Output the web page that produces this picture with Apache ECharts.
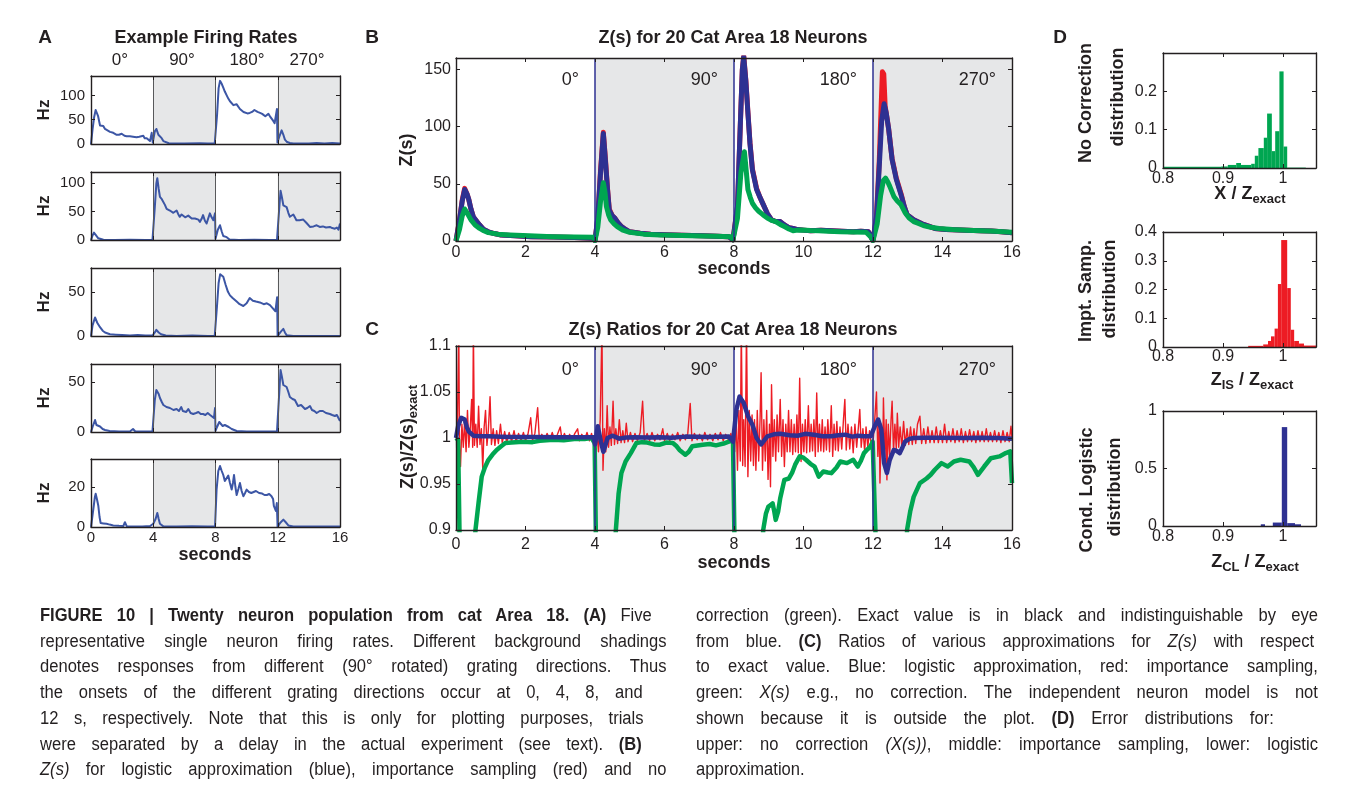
<!DOCTYPE html>
<html>
<head>
<meta charset="utf-8">
<script src="https://cdn.jsdelivr.net/npm/echarts@6/dist/echarts.min.js"></script>
<style>
  html, body { margin: 0; padding: 0; background: #fff; width: 1355px; height: 793px; overflow: hidden; }
  #chart { position: absolute; left: 0; top: 0; width: 1355px; height: 793px; }
  .cap { position: absolute; top: 603px; font-family: "Liberation Sans", Arial, sans-serif;
         font-size: 18px; line-height: 25.7px; color: #231f20; transform: scaleX(0.92); transform-origin: 0 0; }
  .cap div { white-space: nowrap; text-align: justify; text-align-last: justify; }
  .cap div.nat { text-align: left; text-align-last: left; }
</style>
</head>
<body>
<div id="chart"></div>

<!-- widths are the reference widths divided by the 0.92 horizontal squeeze -->
<div class="cap" style="left:40px;width:681px;">
  <div style="width:665px"><b>FIGURE 10 | Twenty neuron population from cat Area 18. (A)</b> Five</div>
  <div>representative single neuron firing rates. Different background shadings</div>
  <div>denotes responses from different (90° rotated) grating directions. Thus</div>
  <div style="width:655px">the onsets of the different grating directions occur at 0, 4, 8, and</div>
  <div style="width:656px">12 s, respectively. Note that this is only for plotting purposes, trials</div>
  <div style="width:654px">were separated by a delay in the actual experiment (see text). <b>(B)</b></div>
  <div><i>Z(s)</i> for logistic approximation (blue), importance sampling (red) and no</div>
</div>
<div class="cap" style="left:696px;width:676px;">
  <div>correction (green). Exact value is in black and indistinguishable by eye</div>
  <div style="width:672px">from blue. <b>(C)</b> Ratios of various approximations for <i>Z(s)</i> with respect</div>
  <div>to exact value. Blue: logistic approximation, red: importance sampling,</div>
  <div>green: <i>X(s)</i> e.g., no correction. The independent neuron model is not</div>
  <div style="width:628px">shown because it is outside the plot. <b>(D)</b> Error distributions for:</div>
  <div>upper: no correction <i>(X(s))</i>, middle: importance sampling, lower: logistic</div>
  <div class="nat">approximation.</div>
</div>

<script>
// ---- panel A: single neuron firing rates (Hz) ----
const rate1 = [[0,0],[0.1,30],[0.2,55],[0.3,70],[0.36,72],[0.45,58],[0.58,38],[0.7,39],[0.79,37],[0.9,31],[1.0,28],[1.22,25],[1.43,23],[1.55,24],[1.65,19],[1.8,19],[1.97,21],[2.15,17],[2.29,16],[2.5,16],[2.7,15],[2.93,14],[3.1,15],[3.2,13],[3.36,17],[3.45,12],[3.58,12],[3.68,16],[3.79,6],[3.9,23],[3.97,3],[4.0,1],[4.1,26],[4.2,31],[4.33,19],[4.45,15],[4.54,12],[4.65,6],[4.75,2],[5.0,1.5],[6,1],[7,1.5],[7.5,1],[7.95,1],
  [8.0,0],[8.1,60],[8.2,115],[8.29,130],[8.4,124],[8.5,116],[8.6,108],[8.72,100],[8.83,93],[8.93,88],[9.04,85],[9.15,80],[9.25,77],[9.35,82],[9.46,79],[9.57,72],[9.68,68],[9.8,66],[9.9,62],[10.05,63],[10.2,64],[10.35,66],[10.5,70],[10.7,66],[10.86,64],[11.0,62],[11.2,57],[11.3,58],[11.4,62],[11.5,57],[11.6,54],[11.7,48],[11.8,43],[11.9,45],[11.95,72],[11.98,3],
  [12.0,0],[12.1,15],[12.25,28],[12.35,20],[12.46,9],[12.6,4],[12.78,2],[13,1],[14,1],[14.5,2],[15,1],[15.5,2],[16,1]];
const rate2 = [[0,0],[0.1,8],[0.19,13],[0.3,10],[0.36,7],[0.47,3],[0.58,1],[0.8,0.5],[1.5,0],[2.5,0.5],[3.5,0],[3.95,0],
  [4.0,0],[4.1,58],[4.2,100],[4.26,109],[4.35,90],[4.43,76],[4.55,72],[4.65,70],[4.75,62],[4.86,55],[4.95,57],[5.07,52],[5.18,53],[5.29,48],[5.4,47],[5.5,52],[5.6,46],[5.7,41],[5.82,45],[5.93,45],[6.05,40],[6.15,39],[6.25,43],[6.36,42],[6.47,38],[6.57,36],[6.68,38],[6.79,41],[6.9,36],[7.0,32],[7.1,37],[7.2,44],[7.32,34],[7.43,29],[7.53,38],[7.64,47],[7.75,40],[7.86,35],[7.97,47],[8.0,2],
  [8.05,5],[8.15,18],[8.29,26],[8.4,15],[8.5,7],[8.6,5],[8.72,5],[8.9,1],[9.5,0],[10.5,0.5],[11.5,0],[11.95,0],
  [12.0,2],[12.08,50],[12.18,87],[12.27,75],[12.36,61],[12.47,62],[12.57,58],[12.68,48],[12.78,41],[12.9,43],[13.0,45],[13.1,40],[13.2,35],[13.4,35],[13.64,36],[13.85,30],[14.07,23],[14.3,24],[14.5,26],[14.7,23],[14.9,24],[15.1,22],[15.35,23],[15.5,21],[15.67,20],[15.8,22],[15.9,18],[16,29]];
const rate3 = [[0,0],[0.1,12],[0.26,21],[0.4,15],[0.58,10],[0.75,6],[0.9,4],[1.22,2],[1.6,1.5],[2,1],[2.5,0.5],[3,1],[3.5,0.5],[3.95,0.5],
  [4.0,0],[4.1,4],[4.2,7],[4.35,4],[4.5,2],[4.8,0.5],[5.5,0],[6.5,0.5],[7.5,0],[7.95,0],
  [8.0,0],[8.1,35],[8.2,60],[8.3,70],[8.4,71],[8.5,67],[8.65,58],[8.8,50],[8.93,46],[9.1,43],[9.36,39],[9.55,36],[9.79,34],[10.0,37],[10.2,43],[10.4,40],[10.6,39],[10.85,38],[11.1,36],[11.3,37],[11.5,35],[11.6,33],[11.7,31],[11.85,28],[11.93,28],[11.96,44],[11.99,0],
  [12.0,0],[12.2,5],[12.36,8],[12.46,4],[12.57,1],[13,0],[14,0],[15,0],[16,0]];
const rate4 = [[0,0],[0.1,5],[0.26,12],[0.35,7],[0.47,5],[0.58,5.5],[0.75,3],[0.9,2],[1.2,1],[1.8,0.5],[2.5,0.5],[2.7,3],[2.85,0.5],[3.5,0.5],[3.95,0.5],
  [4.0,0],[4.1,32],[4.2,42],[4.26,44],[4.35,38],[4.43,34],[4.55,30],[4.65,27],[4.85,25],[5.07,24],[5.3,22],[5.5,23],[5.65,21],[5.8,25],[5.9,21],[6.0,19],[6.12,20],[6.25,23],[6.4,19],[6.57,18],[6.75,19],[6.9,20],[7.05,18],[7.2,18],[7.35,17],[7.5,19],[7.65,17],[7.75,18],[7.9,14],[7.97,24],[8.0,1],
  [8.1,5],[8.24,10],[8.35,8],[8.46,6],[8.6,7],[8.7,8],[8.85,5],[9.04,3],[9.36,1],[10,0.5],[11,0.5],[11.95,0.5],
  [12.0,0],[12.1,40],[12.18,62],[12.27,55],[12.36,47],[12.47,47],[12.57,45],[12.68,40],[12.78,35],[12.95,33],[13.1,32],[13.2,29],[13.3,26],[13.4,28],[13.5,27],[13.6,25],[13.75,23],[13.9,24],[14.07,26],[14.2,22],[14.35,21],[14.5,19],[14.7,21],[14.9,21],[15.1,19],[15.35,18],[15.5,17],[15.67,16],[15.8,17],[15.9,19],[16,11]];
const rate5 = [[0,0],[0.15,9],[0.25,15],[0.3,16.6],[0.38,14],[0.47,10.6],[0.55,5],[0.62,2],[0.8,1.8],[1.0,1.6],[1.2,1.2],[1.43,0.8],[1.8,0.6],[2.08,0.5],[2.18,2.4],[2.3,0.3],[2.8,0.3],[3.3,0.2],[3.8,0.5],[4.0,1.6],[4.15,4],[4.26,7],[4.35,4],[4.43,1.6],[4.65,0.3],[5.5,0.2],[6.5,0.4],[7.5,0.2],[7.97,0.2],
  [8.0,0],[8.07,18.7],[8.18,28],[8.29,30.5],[8.4,28],[8.5,26],[8.6,23],[8.72,22],[8.82,25.7],[8.93,22],[9.04,18.7],[9.12,22],[9.19,26],[9.28,20],[9.36,16],[9.47,19],[9.57,22],[9.68,18],[9.79,15.4],[9.9,17],[10.0,18.7],[10.15,17.5],[10.3,17],[10.45,17.5],[10.6,18],[10.8,17],[11.0,16.7],[11.15,16],[11.3,16],[11.45,16.5],[11.6,15.4],[11.7,14],[11.75,10.6],[11.88,8],[11.94,12],[11.99,0],
  [12.0,0],[12.15,2],[12.36,3.7],[12.5,2.5],[12.68,0.8],[13,0.3],[14,0.2],[15,0.2],[16,0.2]];
const rateMax = [140, 120, 77, 68, 34];
const rateStep = [50, 50, 50, 50, 20];

// ---- panel B: Z(s) ----
const zRed = [[0,0],[0.1,18],[0.18,36],[0.25,46],[0.32,41],[0.37,36],[0.43,28],[0.5,21],[0.6,17],[0.68,14],[0.8,10],[0.93,8],[1.1,6.5],[1.3,5.3],[1.7,4.5],[2.16,3.8],[2.8,3.4],[3.4,3],[3.96,2.5],
  [4.0,0.5],[4.08,20],[4.16,62],[4.24,95],[4.3,72],[4.36,46],[4.41,28],[4.5,22],[4.57,20],[4.66,16],[4.76,12.8],[4.88,10],[5.0,8],[5.3,6.8],[5.6,6],[6.0,5.5],[6.5,5],[7.1,4.6],[7.5,4.2],[7.85,3.8],[7.97,1],
  [8.0,0.5],[8.1,30],[8.18,100],[8.24,150],[8.28,162],[8.34,141],[8.4,113],[8.46,86],[8.53,63],[8.65,46],[8.75,38],[8.84,32],[8.96,24],[9.08,18.5],[9.2,17],[9.33,17],[9.45,14],[9.58,11.7],[9.7,11],[9.83,10],[10.0,9.5],[10.2,9],[10.5,9.5],[10.8,9],[11.1,8.5],[11.43,8],[11.65,8.5],[11.87,8],[11.93,4.4],
  [12.0,0.5],[12.1,22],[12.18,70],[12.24,122],[12.27,148],[12.31,146],[12.35,118],[12.4,108],[12.45,98],[12.55,72],[12.67,55],[12.82,40],[12.9,30],[12.98,23],[13.17,18.5],[13.41,15],[13.6,13],[13.78,11],[14.1,10],[14.5,9.7],[15.1,9],[15.4,8.8],[15.7,8],[16,7.3]];
const zBlue = [[0,0],[0.1,18],[0.18,35],[0.25,45],[0.32,41],[0.37,36],[0.43,28],[0.5,21],[0.6,17],[0.68,14],[0.8,10],[0.93,8],[1.1,6.5],[1.3,5.3],[1.7,4.5],[2.16,3.8],[2.8,3.4],[3.4,3],[3.96,2.5],
  [4.0,0.5],[4.08,20],[4.16,60],[4.24,94],[4.3,70],[4.36,45],[4.41,27],[4.5,22],[4.57,20],[4.66,16],[4.76,12.6],[4.88,10],[5.0,8],[5.3,6.8],[5.6,6],[6.0,5.5],[6.5,5],[7.1,4.6],[7.5,4.2],[7.85,3.8],[7.97,1],
  [8.0,0.5],[8.1,30],[8.18,100],[8.24,150],[8.28,161],[8.34,140],[8.4,112],[8.46,85],[8.53,62],[8.65,45],[8.75,38],[8.84,32],[8.96,24],[9.08,18.5],[9.2,17],[9.33,17],[9.45,14],[9.58,11.7],[9.7,11],[9.83,10],[10.0,9.5],[10.2,9],[10.5,9.5],[10.8,9],[11.1,8.5],[11.43,8],[11.65,8.5],[11.87,8],[11.93,4.4],
  [12.0,0.5],[12.1,20],[12.18,65],[12.25,105],[12.32,120],[12.38,112],[12.45,98],[12.55,71],[12.67,54],[12.82,39],[12.9,30],[12.98,23],[13.17,18.5],[13.41,15],[13.6,13],[13.78,11],[14.1,10],[14.5,9.7],[15.1,9],[15.4,8.8],[15.7,8],[16,7.3]];
const zGreen = [[0,0],[0.1,10],[0.18,22],[0.25,28],[0.33,24],[0.43,18.5],[0.55,14],[0.68,11],[0.8,9],[0.93,7.3],[1.2,6],[1.55,5.3],[2.1,4.5],[2.78,3.8],[3.4,3.5],[3.96,3.2],
  [4.0,0.5],[4.08,12],[4.16,35],[4.24,51],[4.29,42],[4.33,30],[4.39,23],[4.45,18.5],[4.55,15],[4.64,12.6],[4.8,9.5],[5.0,7.6],[5.4,6],[5.87,5.3],[6.5,4.8],[7.1,4.4],[7.5,4.2],[7.9,3.8],[7.97,1],
  [8.0,0.5],[8.1,20],[8.2,60],[8.3,78],[8.35,62],[8.4,45],[8.47,38],[8.53,33],[8.62,29],[8.71,26],[8.83,23],[8.96,20],[9.08,18],[9.2,17],[9.33,14.5],[9.45,12.6],[9.58,10.5],[9.7,9],[9.83,9.5],[9.95,9.7],[10.2,9.2],[10.44,9],[10.7,8.6],[11.06,8],[11.4,7.8],[11.8,7.6],[11.93,3.8],
  [12.0,0.5],[12.12,15],[12.22,40],[12.3,53],[12.36,55],[12.42,52],[12.48,48],[12.6,39],[12.7,35],[12.8,32],[12.92,25],[13.04,20],[13.17,17],[13.29,15.6],[13.45,13.5],[13.66,12],[13.9,11],[14.28,10],[14.7,9.5],[15.1,9],[15.5,8.5],[16,7.6]];

// ---- panel C: ratios Z(s)/Z(s)exact ----
const ratioRed = [[0,1.0],[0.04,1.012],[0.08,1.12],[0.1,0.99],[0.13,0.969],[0.17,1.015],[0.21,0.99],[0.25,1.02],[0.29,0.985],[0.33,1.03],[0.37,0.99],[0.41,1.01],[0.45,1.042],[0.48,0.99],[0.5,1.12],[0.53,0.992],[0.57,1.015],[0.61,0.99],[0.65,1.0345],[0.69,0.993],[0.73,1.01],[0.77,0.966],[0.81,1.012],[0.85,1.03],[0.89,0.992],[0.93,1.008],[0.98,1.045],[1.02,0.993],[1.07,1.01],[1.12,0.992],[1.17,1.008],[1.22,0.994],[1.28,1.015],[1.33,0.995],[1.4,1.007],[1.46,0.995],[1.53,1.006],[1.6,0.996],[1.67,1.008],[1.73,0.996],[1.8,1.005],[1.87,0.997],[1.94,1.006],[2.0,0.997],[2.07,1.004],[2.15,1.022],[2.2,0.997],[2.27,1.005],[2.35,1.033],[2.4,0.997],[2.47,1.004],[2.55,0.997],[2.62,1.005],[2.7,0.998],[2.77,1.006],[2.84,0.997],[2.92,1.004],[3.0,1.012],[3.05,0.998],[3.12,1.005],[3.2,0.997],[3.27,1.004],[3.34,0.998],[3.42,1.005],[3.5,1.01],[3.55,0.997],[3.62,1.004],[3.7,0.998],[3.77,1.006],[3.84,0.997],[3.9,1.005],[3.96,0.995],
  [4.0,0.99],[4.05,1.008],[4.1,0.985],[4.15,1.02],[4.2,1.12],[4.23,0.965],[4.27,1.01],[4.31,0.985],[4.35,1.035],[4.39,0.99],[4.43,1.012],[4.47,0.992],[4.52,1.04],[4.56,0.993],[4.6,1.01],[4.65,0.994],[4.7,1.02],[4.75,0.995],[4.8,1.008],[4.85,0.995],[4.9,1.016],[4.95,0.996],[5.02,1.006],[5.08,0.996],[5.15,1.005],[5.22,0.997],[5.3,1.006],[5.37,1.04],[5.42,0.997],[5.5,1.005],[5.57,0.997],[5.64,1.006],[5.72,0.997],[5.8,1.004],[5.87,0.998],[5.95,1.01],[6.0,0.997],[6.08,1.005],[6.15,0.997],[6.23,1.004],[6.3,0.998],[6.38,1.006],[6.45,0.997],[6.53,1.004],[6.6,0.998],[6.67,1.005],[6.74,1.0375],[6.79,0.997],[6.86,1.005],[6.94,0.998],[7.01,1.004],[7.09,0.997],[7.16,1.006],[7.24,0.998],[7.31,1.004],[7.39,0.997],[7.46,1.005],[7.54,0.998],[7.61,1.006],[7.69,0.997],[7.76,1.004],[7.84,0.998],[7.91,1.005],[7.97,0.995],
  [8.02,0.985],[8.06,1.02],[8.1,0.965],[8.14,1.03],[8.18,0.975],[8.21,1.12],[8.25,0.97],[8.28,1.02],[8.32,0.969],[8.36,1.12],[8.4,0.958],[8.44,1.03],[8.48,0.975],[8.52,1.025],[8.56,0.97],[8.59,1.02],[8.63,0.965],[8.67,1.03],[8.71,0.975],[8.75,1.02],[8.78,1.071],[8.82,0.965],[8.86,1.02],[8.9,0.975],[8.94,1.03],[8.98,0.955],[9.02,1.015],[9.05,0.947],[9.08,1.058],[9.12,0.98],[9.16,1.02],[9.2,0.975],[9.24,1.025],[9.28,0.985],[9.33,1.042],[9.37,0.98],[9.41,1.02],[9.45,0.969],[9.49,1.015],[9.53,0.985],[9.57,1.03],[9.61,0.985],[9.65,1.02],[9.69,0.982],[9.73,1.015],[9.77,0.985],[9.81,1.025],[9.85,0.984],[9.89,1.065],[9.93,0.9745],[9.97,1.015],[10.01,0.985],[10.05,1.02],[10.09,0.984],[10.14,1.035],[10.18,0.985],[10.22,1.015],[10.26,0.986],[10.3,1.02],[10.34,0.98],[10.38,1.049],[10.42,0.985],[10.46,1.015],[10.5,0.986],[10.54,1.02],[10.58,0.985],[10.62,1.012],[10.66,0.987],[10.7,1.02],[10.75,0.985],[10.8,1.035],[10.84,0.98],[10.88,1.015],[10.92,0.987],[10.96,1.018],[11.0,0.986],[11.05,1.012],[11.1,0.988],[11.15,1.02],[11.19,1.042],[11.23,0.987],[11.28,1.015],[11.33,0.988],[11.38,1.012],[11.43,0.984],[11.48,1.015],[11.53,0.99],[11.58,1.012],[11.62,1.031],[11.66,0.99],[11.71,1.01],[11.76,0.985],[11.8,1.012],[11.85,0.99],[11.9,1.008],[11.95,0.992],
  [12.0,0.995],[12.05,1.02],[12.1,1.05],[12.14,0.98],[12.18,1.02],[12.2,0.951],[12.24,1.015],[12.28,0.975],[12.3,1.0436],[12.34,0.98],[12.38,1.02],[12.4,0.9545],[12.44,1.015],[12.48,0.98],[12.52,1.02],[12.55,1.04],[12.59,0.985],[12.63,1.015],[12.67,0.988],[12.7,1.027],[12.74,0.99],[12.78,1.012],[12.83,0.99],[12.88,1.018],[12.93,0.992],[12.98,1.01],[13.03,0.993],[13.08,1.012],[13.13,0.993],[13.18,1.01],[13.23,0.994],[13.28,1.015],[13.35,1.0236],[13.4,0.994],[13.46,1.01],[13.52,0.994],[13.58,1.012],[13.64,0.995],[13.7,1.008],[13.76,0.995],[13.82,1.012],[13.88,0.995],[13.94,1.008],[14.0,0.995],[14.06,1.015],[14.12,0.995],[14.18,1.007],[14.24,0.996],[14.3,1.01],[14.36,0.995],[14.42,1.008],[14.48,0.996],[14.54,1.01],[14.6,0.995],[14.66,1.007],[14.72,0.996],[14.78,1.009],[14.84,0.996],[14.9,1.007],[14.96,0.995],[15.02,1.008],[15.08,0.996],[15.14,1.007],[15.2,0.996],[15.26,1.01],[15.32,0.996],[15.38,1.006],[15.44,0.996],[15.5,1.008],[15.56,0.996],[15.62,1.006],[15.68,0.995],[15.74,1.008],[15.8,0.996],[15.86,1.006],[15.92,0.996],[15.97,1.0127],[16,1.0]];
const ratioBlue = [[0,1.0],[0.06,1.0127],[0.15,1.022],[0.25,1.02],[0.31,1.012],[0.37,1.007],[0.5,1.0025],[0.7,1.002],[0.93,1.0018],[1.5,1.0012],[2.16,1.001],[3.0,1.0008],[3.5,1.0009],[3.96,1.0007],[4.0,0.993],
  [4.08,1.0127],[4.17,0.996],[4.24,0.985],[4.3,0.992],[4.36,1.0],[4.5,1.0025],[4.6,1.001],[4.7,0.9993],[4.9,1.0005],[5.13,1.0007],[5.5,1.0005],[5.87,1.0007],[6.2,1.0003],[6.6,1.0015],[7.2,1.0012],[7.85,1.0015],[7.97,0.996],
  [8.07,1.031],[8.16,1.045],[8.28,1.038],[8.4,1.024],[8.53,1.0145],[8.65,1.0],[8.78,0.993],[8.96,1.0018],[9.15,1.004],[9.33,1.0047],[9.6,1.003],[9.83,1.0025],[10.05,1.0045],[10.3,1.0036],[10.55,1.002],[10.8,1.0018],[11.0,1.003],[11.2,1.0036],[11.4,1.0015],[11.56,1.0025],[11.75,1.002],[11.93,1.0018],
  [12.05,1.0127],[12.15,1.02],[12.24,1.009],[12.32,0.9727],[12.4,0.962],[12.48,0.976],[12.6,0.987],[12.68,0.986],[12.77,0.9836],[12.85,0.99],[12.92,0.996],[13.05,0.999],[13.17,1.0],[13.5,1.0004],[13.9,1.0004],[14.5,1.0],[15.14,1.0004],[15.6,1.0],[16,0.9993]];
const ratioGreen = [[0,1.0],[0.06,0.998],[0.12,0.85],[0.5,0.85],[0.56,0.9],[0.65,0.93],[0.74,0.958],[0.83,0.968],[0.93,0.976],[1.05,0.982],[1.17,0.987],[1.3,0.991],[1.42,0.9945],[1.6,0.995],[1.92,0.996],[2.2,0.9955],[2.41,0.997],[2.8,0.998],[3.1,0.9975],[3.4,0.9989],[3.7,0.999],[3.9,1.0],[3.99,0.9945],
  [4.04,0.85],[4.55,0.85],[4.6,0.9],[4.68,0.94],[4.76,0.962],[4.88,0.9745],[5.03,0.9836],[5.19,0.9945],[5.35,0.9955],[5.5,0.995],[5.7,0.993],[5.87,0.9927],[6.05,0.995],[6.24,0.9945],[6.35,0.991],[6.43,0.987],[6.6,0.9818],[6.7,0.985],[6.8,0.991],[7.1,0.9927],[7.3,0.9935],[7.48,0.992],[7.7,0.994],[7.85,0.996],[7.97,0.998],
  [8.03,0.85],[8.8,0.85],[8.84,0.9],[8.92,0.918],[8.99,0.9255],[9.05,0.927],[9.11,0.929],[9.16,0.92],[9.2,0.911],[9.27,0.92],[9.33,0.9345],[9.45,0.9545],[9.58,0.956],[9.67,0.962],[9.76,0.971],[9.89,0.98],[9.98,0.979],[10.07,0.9764],[10.2,0.972],[10.32,0.969],[10.44,0.958],[10.57,0.9636],[10.7,0.9625],[10.8,0.9618],[10.95,0.968],[11.06,0.9745],[11.25,0.9727],[11.43,0.9764],[11.56,0.969],[11.65,0.975],[11.74,0.9836],[11.85,0.988],[11.93,0.991],[11.99,0.996],
  [12.11,0.85],[12.95,0.85],[12.98,0.9],[13.07,0.92],[13.17,0.936],[13.35,0.951],[13.54,0.956],[13.66,0.96],[13.78,0.9655],[13.97,0.9727],[14.15,0.969],[14.33,0.9745],[14.52,0.9764],[14.77,0.9745],[14.9,0.968],[15.02,0.96],[15.2,0.969],[15.39,0.978],[15.64,0.98],[15.82,0.9836],[15.95,0.9855],[16,0.951]];

// ---- panel D: error distributions (bin edges + heights) ----
const edgesNC = [0.800, 0.897, 0.908, 0.922, 0.930, 0.947, 0.953, 0.959, 0.968, 0.9735, 0.9814, 0.987, 0.994, 1.001, 1.007, 1.038];
const histNC  = [0.003, 0.004, 0.008, 0.013, 0.008, 0.011, 0.032, 0.052, 0.079, 0.142, 0.044, 0.096, 0.252, 0.056, 0.001];
const edgesIS = [0.942, 0.967, 0.975, 0.980, 0.986, 0.9915, 0.997, 1.007, 1.013, 1.0186, 1.0266, 1.035, 1.055];
const histIS  = [0.004, 0.009, 0.021, 0.037, 0.064, 0.219, 0.372, 0.205, 0.060, 0.021, 0.012, 0.005];
const edgesCL = [0.963, 0.970, 0.983, 0.998, 1.007, 1.020, 1.030];
const histCL  = [0.015, 0, 0.030, 0.860, 0.025, 0.015];

const angles = ["0°", "90°", "180°", "270°"];

const INK = "#231f20";
const SHADE = "#e6e7e8";
const SANS = "'Liberation Sans', Arial, Helvetica, sans-serif";
const cBlueA = "#3c56a5", cRed = "#ed1c24", cNavy = "#2e3192", cGreen = "#00a651";

const grids = [], xAxes = [], yAxes = [], series = [], graphics = [];

function frame(box, xo, yo) {
  const gi = grids.length;
  grids.push({ left: box[0], top: box[1], width: box[2], height: box[3] });
  const common = {
    gridIndex: gi, type: "value", z: 10, splitLine: { show: false },
    axisLine: { onZero: false, lineStyle: { color: INK, width: 1.4 } },
    axisTick: { inside: true, length: 4, lineStyle: { color: INK, width: 1 } },
  };
  const xi = xAxes.length, yi = yAxes.length;
  xAxes.push(Object.assign({}, common, {
    position: "bottom", min: xo.min, max: xo.max, interval: xo.step,
    axisLabel: { show: xo.labels, color: INK, fontSize: xo.fs, fontFamily: SANS, margin: xo.margin, showMaxLabel: xo.showMax },
  }));
  xAxes.push(Object.assign({}, common, {
    position: "top", min: xo.min, max: xo.max, interval: xo.step, axisLabel: { show: false },
  }));
  yAxes.push(Object.assign({}, common, {
    position: "left", min: yo.min, max: yo.max, interval: yo.step,
    axisLabel: { color: INK, fontSize: yo.fs, fontFamily: SANS, margin: yo.margin, showMaxLabel: yo.showMax },
  }));
  yAxes.push(Object.assign({}, common, {
    position: "right", min: yo.min, max: yo.max, interval: yo.step, axisLabel: { show: false },
  }));
  return { xi: xi, yi: yi };
}

function line(ax, data, color, width, extra) {
  return Object.assign({
    type: "line", xAxisIndex: ax.xi, yAxisIndex: ax.yi, data: data,
    symbol: "none", showSymbol: false, clip: true, silent: true,
    lineStyle: { color: color, width: width, join: "round" }, itemStyle: { color: color },
  }, extra || {});
}

function shading(sepColor, sepWidth) {
  return {
    markArea: { silent: true, itemStyle: { color: SHADE }, data: [[{ xAxis: 4 }, { xAxis: 8 }], [{ xAxis: 12 }, { xAxis: 16 }]] },
    markLine: { silent: true, symbol: "none", label: { show: false },
      lineStyle: { color: sepColor, width: sepWidth, type: "solid" },
      data: [{ xAxis: 4 }, { xAxis: 8 }, { xAxis: 12 }] },
  };
}

function hist(ax, edges, heights, color) {
  return {
    type: "custom", xAxisIndex: ax.xi, yAxisIndex: ax.yi, silent: true, clip: true,
    data: heights.map((h, i) => [edges[i], edges[i + 1], h]),
    encode: { x: [0, 1], y: 2 },
    renderItem: function (params, api) {
      const p0 = api.coord([api.value(0), api.value(2)]);
      const p1 = api.coord([api.value(1), 0]);
      return { type: "rect", shape: { x: p0[0], y: p0[1], width: p1[0] - p0[0], height: p1[1] - p0[1] }, style: { fill: color } };
    },
  };
}

function txt(x, y, text, font, extra) {
  graphics.push(Object.assign({
    type: "text", x: x, y: y, z: 100, silent: true,
    style: Object.assign({ text: text, font: font, fill: INK, align: "center", verticalAlign: "middle",
      textAlign: "center", textVerticalAlign: "middle" }, (extra && extra.style) || {}),
  }, extra && extra.rotation ? { rotation: extra.rotation } : {}));
}

// panel A
const rates = [rate1, rate2, rate3, rate4, rate5];
const topsA = [76, 172, 268, 364, 459];
rates.forEach((r, k) => {
  const last = k === rates.length - 1;
  const ax = frame([91, topsA[k], 249, 68],
    { min: 0, max: 16, step: 4, labels: last, fs: 15, margin: 3 },
    { min: 0, max: rateMax[k], step: rateStep[k], fs: 15, margin: 6, showMax: false });
  series.push(line(ax, r, cBlueA, 2, shading("#58595b", 1)));
  txt(44, topsA[k] + 34, "Hz", "bold 17px " + SANS, { rotation: Math.PI / 2 });
});

// panel B
const axB = frame([456, 58, 556, 183],
  { min: 0, max: 16, step: 2, labels: true, fs: 16, margin: 4 },
  { min: 0, max: 160, step: 50, fs: 16, margin: 5, showMax: false });
series.push(line(axB, zRed, cRed, 5, shading(cNavy, 1.5)));
series.push(line(axB, zBlue, cNavy, 5));
series.push(line(axB, zGreen, cGreen, 5));

// panel C
const axC = frame([456, 346, 556, 184],
  { min: 0, max: 16, step: 2, labels: true, fs: 16, margin: 7 },
  { min: 0.9, max: 1.1, step: 0.05, fs: 16, margin: 5 });
series.push(line(axC, ratioRed, cRed, 1.4, shading(cNavy, 1.5)));
series.push(line(axC, ratioGreen, cGreen, 4.5));
series.push(line(axC, ratioBlue, cNavy, 4.5));

// panel D
const axD1 = frame([1163, 53, 153, 115],
  { min: 0.8, max: 1.055, step: 0.1, labels: true, fs: 16, margin: 3, showMax: false },
  { min: 0, max: 0.3, step: 0.1, fs: 16, margin: 6, showMax: false });
series.push(hist(axD1, edgesNC, histNC, cGreen));
const axD2 = frame([1163, 232, 153, 115],
  { min: 0.8, max: 1.055, step: 0.1, labels: true, fs: 16, margin: 2, showMax: false },
  { min: 0, max: 0.4, step: 0.1, fs: 16, margin: 6 });
series.push(hist(axD2, edgesIS, histIS, cRed));
const axD3 = frame([1163, 411, 153, 115],
  { min: 0.8, max: 1.055, step: 0.1, labels: true, fs: 16, margin: 3, showMax: false },
  { min: 0, max: 1, step: 0.5, fs: 16, margin: 6 });
series.push(hist(axD3, edgesCL, histCL, cNavy));

// headings, panel letters and axis names
const B18 = "bold 18px " + SANS;
txt(45, 38, "A", "bold 19px " + SANS);
txt(372, 38, "B", "bold 19px " + SANS);
txt(372, 330, "C", "bold 19px " + SANS);
txt(1060, 38, "D", "bold 19px " + SANS);
txt(206, 38, "Example Firing Rates", B18);
txt(733, 38, "Z(s) for 20 Cat Area 18 Neurons", B18);
txt(733, 330, "Z(s) Ratios for 20 Cat Area 18 Neurons", B18);
[120, 182, 247, 307].forEach((x, i) => txt(x, 60, angles[i], "17px " + SANS));
[579, 718, 857, 996].forEach((x, i) => {
  txt(x, 80, angles[i], "18px " + SANS, { style: { align: "right", textAlign: "right" } });
  txt(x, 370, angles[i], "18px " + SANS, { style: { align: "right", textAlign: "right" } });
});
txt(215, 555, "seconds", B18);
txt(734, 269, "seconds", B18);
txt(734, 563, "seconds", B18);
txt(407, 150, "Z(s)", B18, { rotation: Math.PI / 2 });

const subRich = {
  a: { font: "bold 18px " + SANS, fill: INK },
  b: { font: "bold 13px " + SANS, fill: INK, padding: [11, 0, 0, 0] },
};
txt(408, 437, "{a|Z(s)/Z(s)}{b|exact}", "", { rotation: Math.PI / 2, style: { rich: subRich } });
txt(1250, 194, "{a|X / Z}{b|exact}", "", { style: { rich: subRich } });
txt(1252, 380, "{a|Z}{b|IS}{a| / Z}{b|exact}", "", { style: { rich: subRich } });
txt(1255, 562, "{a|Z}{b|CL}{a| / Z}{b|exact}", "", { style: { rich: subRich } });

txt(1086, 103, "No Correction", B18, { rotation: Math.PI / 2 });
txt(1118, 97, "distribution", B18, { rotation: Math.PI / 2 });
txt(1086, 291, "Impt. Samp.", B18, { rotation: Math.PI / 2 });
txt(1110, 289, "distribution", B18, { rotation: Math.PI / 2 });
txt(1087, 490, "Cond. Logistic", B18, { rotation: Math.PI / 2 });
txt(1115, 487, "distribution", B18, { rotation: Math.PI / 2 });

const chart = echarts.init(document.getElementById("chart"), null, { renderer: "canvas" });
chart.setOption({
  animation: false,
  backgroundColor: "#fff",
  grid: grids,
  xAxis: xAxes,
  yAxis: yAxes,
  series: series,
  graphic: { elements: graphics },
});
</script>
</body>
</html>
